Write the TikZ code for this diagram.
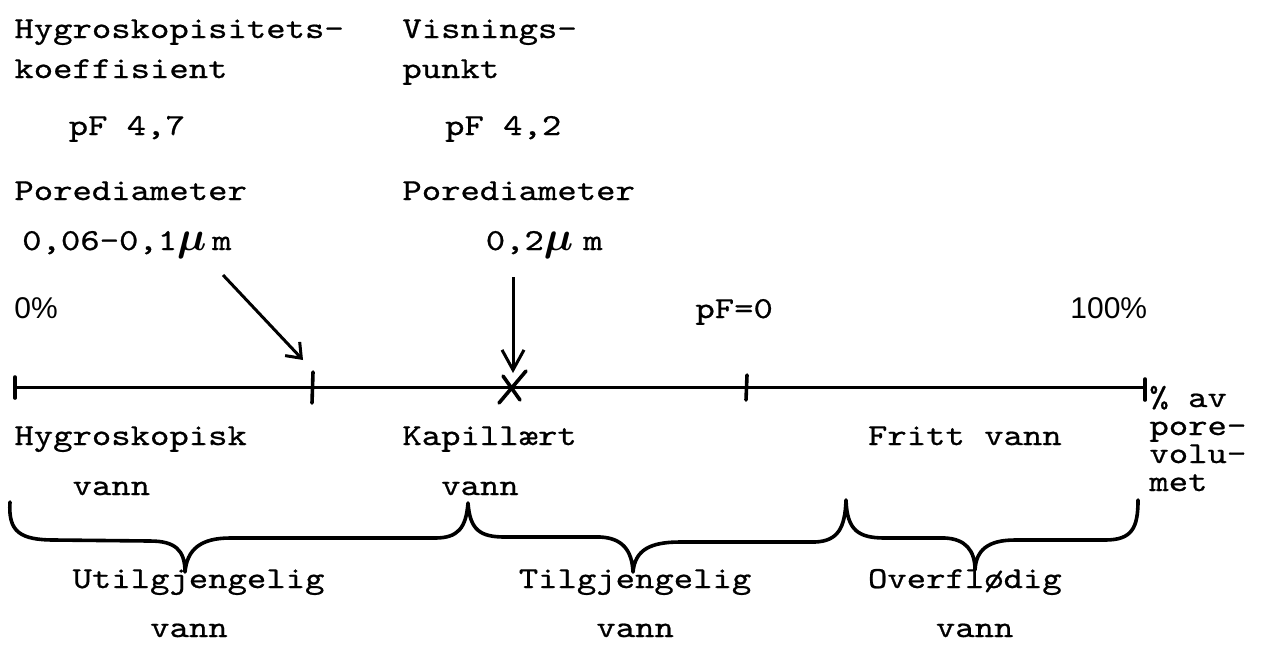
\documentclass[tikz,border=0pt]{standalone}
\usepackage{fontspec}
\usetikzlibrary{arrows.meta}
\newfontfamily\twfont{lmmono10-regular.otf}[FakeStretch=1.21,FakeBold=0.7]
\newfontfamily\pctfont{Liberation Sans}
\newcommand{\mysymu}{{\fontsize{22}{22}\selectfont\boldmath$\mu$}}
\begin{document}
\begin{tikzpicture}[x=0.5pt,y=-0.5pt,
  tw/.style={font={\twfont\fontsize{15.25}{18}\selectfont}, inner sep=0pt, anchor=base west},
  pct/.style={font={\pctfont\fontsize{15}{18}\selectfont}, inner sep=0pt, anchor=base west},
  axisline/.style={line width=1.5pt},
  tickmark/.style={line width=1.8pt, line cap=round},
  bracestroke/.style={line width=1.8pt, line cap=round, line join=round},
  arrone/.style={line width=1.5pt, -{Straight Barb[length=6.5pt,width=10pt,line width=1.5pt]}},
  arrtwo/.style={line width=1.5pt, -{Straight Barb[length=10pt,width=11pt,line width=1.5pt]}},
]
\useasboundingbox (0,0) rectangle (1261,644);
\fill[white] (0,0) rectangle (1261,644);

% top labels
\node[tw] (hkoefa) at (14,38) {Hygroskopisitets-};
\node[tw] (hkoefb) at (14,78) {koeffisient};
\node[tw] (hkoefpf) at (68.3,135) {pF 4,7};
\node[tw] (visa) at (402,38) {Visnings-};
\node[tw] (visb) at (402,78) {punkt};
\node[tw] (vispf) at (444.7,135) {pF 4,2};
\node[tw] (pda) at (14,200) {Porediameter};
\node[tw] (pdb) at (402,200) {Porediameter};
\node[tw] (pdaval) at (21.8,250) {0,06-0,1\makebox[17.5pt][l]{\mysymu}{\bfseries m}};
\node[tw] (pdbval) at (485.4,250) {0,2\makebox[19.7pt][l]{\mysymu}{\bfseries m}};

% scale labels
\node[pct] (pzero) at (14,318) {0\%};
\node[tw] (pfzero) at (695,318) {pF=0};
\node[pct] (phund) at (1070,318) {100\%};

% axis
\coordinate (ax0) at (15,387);
\coordinate (ax1) at (313,387);
\coordinate (ax2) at (512,387);
\coordinate (ax3) at (747,387);
\coordinate (ax4) at (1145,387);
\draw[axisline] (ax0) -- (ax4);
\draw[tickmark] (15,377) -- (15,398);
\draw[tickmark] (313,372) -- (312,403);
\draw[tickmark] (747,375) -- (746,400);
\draw[tickmark] (1145,379) -- (1145,400);
\draw[tickmark] (526,371) -- (499,403);
\draw[tickmark] (503,376) -- (520,400);

% arrows
\coordinate (aones) at (223,275);
\coordinate (aonee) at (303,360);
\draw[arrone] (aones) -- (aonee);
\coordinate (atwos) at (513,277);
\coordinate (atwoe) at (513,373);
\draw[arrtwo] (atwos) -- (atwoe);

% right label
\node[tw] (ra) at (1149,407) {\% av};
\node[tw] (rb) at (1149,435) {pore-};
\node[tw] (rc) at (1149,463) {volu-};
\node[tw] (rd) at (1149,491) {met};

% water kinds
\node[tw] (hyg) at (14,445) {Hygroskopisk};
\node[tw] (hygv) at (72.2,495) {vann};
\node[tw] (kap) at (402,445) {Kapillært};
\node[tw] (kapv) at (440.8,495) {vann};
\node[tw] (fri) at (867.6,445) {Fritt vann};

% brace
\draw[bracestroke] (10,502) .. controls (8,532) and (20,540) .. (55,540)
 -- (150,541) .. controls (175,541) and (185,550) .. (185,572)
 .. controls (187,550) and (200,538) .. (230,538)
 -- (435,538) .. controls (458,538) and (466,528) .. (468,503)
 .. controls (470,530) and (480,537) .. (505,537)
 -- (600,537) .. controls (622,538) and (632,550) .. (633,572)
 .. controls (635,550) and (650,542) .. (680,542)
 -- (815,542) .. controls (838,541) and (845,528) .. (846,500)
 .. controls (847,530) and (858,538) .. (885,538)
 -- (945,538) .. controls (965,539) and (975,550) .. (975,570)
 .. controls (976,550) and (988,540) .. (1015,540)
 -- (1105,540) .. controls (1132,540) and (1138,528) .. (1138,500);

% bottom labels
\node[tw] (util) at (72.2,588) {Utilgjengelig};
\node[tw] (utilv) at (149.8,637) {vann};
\node[tw] (tilg) at (518.4,588) {Tilgjengelig};
\node[tw] (tilgv) at (596,637) {vann};
\node[tw] (over) at (867.6,588) {Overflødig};
\node[tw] (overv) at (935.5,637) {vann};
\end{tikzpicture}
\end{document}
